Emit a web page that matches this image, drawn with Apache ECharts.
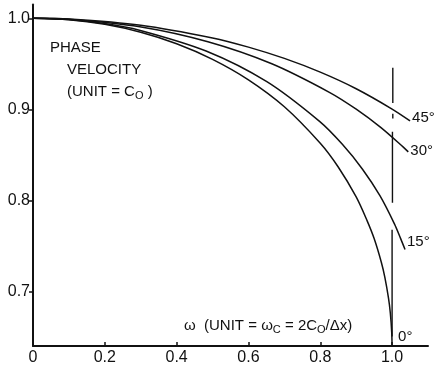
<!DOCTYPE html>
<html>
<head>
<meta charset="utf-8">
<script src="https://cdn.jsdelivr.net/npm/echarts@6/dist/echarts.min.js"></script>
<style>
  html, body { margin: 0; padding: 0; background: #fff; }
  #chart { width: 440px; height: 370px; }
</style>
</head>
<body>
<div id="chart"></div>
<script>
// phase velocity (unit c0) against omega (unit omega_c)
const curve0 = [
  [0, 1], [0.1, 0.9983], [0.2, 0.9933], [0.3, 0.9846], [0.4, 0.972], [0.5, 0.9549],
  [0.6, 0.9324], [0.7, 0.9028], [0.8, 0.8627], [0.85, 0.8366], [0.9, 0.8037],
  [0.93, 0.778], [0.95, 0.758], [0.97, 0.732], [0.98, 0.7151], [0.99, 0.6925],
  [0.995, 0.6765], [0.999, 0.6546], [1.0, 0.6366]
];
const curve15 = [
  [0, 1], [0.1, 0.9985], [0.1988, 0.9942], [0.2963, 0.9869], [0.482, 0.964],
  [0.6512, 0.9303], [0.798, 0.8867], [0.8615, 0.8615], [0.9176, 0.8342],
  [0.9661, 0.8051], [1.0065, 0.7742], [1.0236, 0.7582], [1.036, 0.746]
];
const curve30 = [
  [0, 1], [0.1, 0.999], [0.2972, 0.9907], [0.4871, 0.9742], [0.665, 0.95],
  [0.8266, 0.9184], [0.9001, 0.9001], [0.9682, 0.8801], [1.0305, 0.8587], [1.0451, 0.8532]
];
const curve45 = [
  [0, 1], [0.1, 0.9992], [0.3, 0.9924], [0.5, 0.9784], [0.6, 0.9683], [0.7, 0.9559],
  [0.8, 0.9408], [0.9, 0.9226], [1.0, 0.9003], [1.05, 0.8873]
];
// broken vertical line at omega = 1
const cutoffLine = [
  [1.002, 0.9455], [1.002, 0.907], [1.002, '-'], [1.002, 0.895], [1.002, 0.89], [1.002, '-'],
  [1.001, 0.8752], [1.001, 0.7973], [1.001, '-'], [1.0, 0.7677], [1.0, 0.6503]
];
const xTicks = [0, 0.2, 0.4, 0.6, 0.8, 1.0];
const yTicks = [0.7, 0.8, 0.9, 1.0];
const angleNames = ['0°', '15°', '30°', '45°'];

const font = 'Liberation Sans, Arial, sans-serif';
const ink = '#111';

const chart = echarts.init(document.getElementById('chart'));

const curveSeries = (name, data, offset) => ({
  name: name,
  type: 'line',
  data: data,
  smooth: 0.3,
  showSymbol: false,
  silent: true,
  lineStyle: { color: ink, width: 1.5 },
  endLabel: {
    show: true,
    formatter: name,
    distance: 2,
    offset: offset,
    color: ink,
    fontFamily: font,
    fontSize: 15
  }
});

const option = {
  animation: false,
  backgroundColor: '#fff',
  grid: { left: 33, right: 12, top: 4.6, bottom: 24 },
  xAxis: {
    type: 'value',
    min: 0,
    max: 1.1,
    axisLine: { lineStyle: { color: ink, width: 2 } },
    axisTick: { inside: true, length: 4, customValues: xTicks.slice(1), lineStyle: { color: ink, width: 1.5 } },
    axisLabel: {
      customValues: xTicks,
      margin: 4,
      color: ink,
      fontFamily: font,
      fontSize: 16,
      formatter: v => (v === 0 ? '0' : v.toFixed(1))
    },
    splitLine: { show: false }
  },
  yAxis: {
    type: 'value',
    min: 0.64,
    max: 1.015,
    axisLine: { show: true, lineStyle: { color: ink, width: 2 } },
    axisTick: { show: true, length: 4, customValues: yTicks, lineStyle: { color: ink, width: 1.5 } },
    axisLabel: {
      customValues: yTicks,
      margin: 3,
      color: ink,
      fontFamily: font,
      fontSize: 16,
      formatter: v => v.toFixed(1)
    },
    splitLine: { show: false }
  },
  graphic: [
    { type: 'text', left: 50, top: 40, style: { text: 'PHASE', font: '15px ' + font, fill: ink } },
    { type: 'text', left: 67, top: 62, style: { text: 'VELOCITY', font: '15px ' + font, fill: ink } },
    {
      type: 'text', left: 67, top: 84,
      style: {
        text: '(UNIT = C{s|O} )',
        font: '15px ' + font,
        fill: ink,
        rich: { s: { fontSize: 11, fontFamily: font, fill: ink, padding: [8, 0, 0, 0] } }
      }
    },
    {
      type: 'text', left: 184, top: 318,
      style: {
        text: 'ω  (UNIT = ω{s|C} = 2C{s|O}/Δx)',
        font: '15px ' + font,
        fill: ink,
        rich: { s: { fontSize: 11, fontFamily: font, fill: ink, padding: [8, 0, 0, 0] } }
      }
    }
  ],
  series: [
    curveSeries(angleNames[0], curve0, [4, -12]),
    curveSeries(angleNames[1], curve15, [0, -8]),
    curveSeries(angleNames[2], curve30, [0, -1]),
    curveSeries(angleNames[3], curve45, [0, -3]),
    {
      type: 'line',
      data: cutoffLine,
      showSymbol: false,
      silent: true,
      connectNulls: false,
      lineStyle: { color: ink, width: 1.4 }
    }
  ]
};

chart.setOption(option);
</script>
</body>
</html>
